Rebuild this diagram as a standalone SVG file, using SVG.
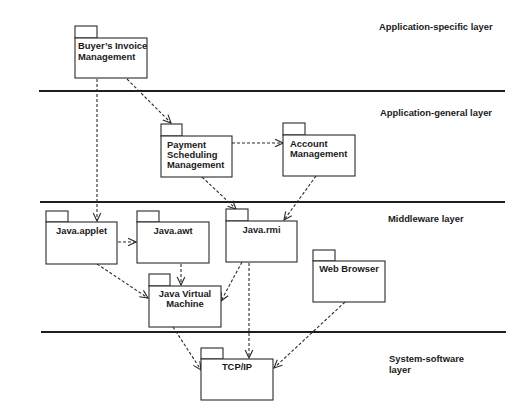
<svg xmlns="http://www.w3.org/2000/svg" width="527" height="414" viewBox="0 0 527 414">
<defs>
<style>
.pk{fill:#fff;stroke:#2a2a2a;stroke-width:1.1}
.t{font-family:"Liberation Sans",Arial,Helvetica,sans-serif;font-weight:bold;font-size:9.4px;fill:#1a1a1a}
.c{text-anchor:middle}
.lay{stroke:#1e1e1e;stroke-width:2.2}
.dep{fill:none;stroke:#2a2a2a;stroke-width:1.1;stroke-dasharray:3,2;marker-end:url(#arr)}
</style>
<marker id="arr" markerUnits="userSpaceOnUse" markerWidth="10" markerHeight="10" viewBox="0 0 10 10" refX="9" refY="5" orient="auto">
<path d="M1,1.2 L9,5 L1,8.8" fill="none" stroke="#2a2a2a" stroke-width="1.1"/>
</marker>
</defs>
<rect width="527" height="414" fill="#fff"/>

<g id="layers">
<line class="lay" x1="39" y1="91" x2="505" y2="91"/>
<line class="lay" x1="40" y1="202" x2="505" y2="202"/>
<line class="lay" x1="41" y1="332" x2="506" y2="332"/>
<text class="t" x="379" y="30">Application-specific layer</text>
<text class="t" x="380" y="116">Application-general layer</text>
<text class="t" x="388" y="222">Middleware layer</text>
<text class="t" x="389" y="362">System-software</text>
<text class="t" x="389" y="373">layer</text>
</g>

<g id="connectors">
<line class="dep" x1="127" y1="79" x2="171" y2="123"/>
<line class="dep" x1="97" y1="79" x2="97" y2="221"/>
<line class="dep" x1="232" y1="143" x2="283" y2="143"/>
<line class="dep" x1="202" y1="177" x2="236" y2="209"/>
<line class="dep" x1="316" y1="176" x2="284" y2="220"/>
<line class="dep" x1="118" y1="242" x2="136" y2="242"/>
<line class="dep" x1="97" y1="264" x2="148" y2="298"/>
<line class="dep" x1="181" y1="264" x2="181" y2="285"/>
<line class="dep" x1="242" y1="262" x2="221" y2="301"/>
<line class="dep" x1="249" y1="263" x2="249" y2="358"/>
<line class="dep" x1="173" y1="327" x2="201" y2="370"/>
<line class="dep" x1="345" y1="302" x2="274" y2="368"/>
</g>

<g id="buyers-invoice">
<rect class="pk" x="75" y="26" width="22" height="12"/>
<rect class="pk" x="75" y="38" width="72" height="40"/>
<text class="t" x="78" y="49">Buyer’s Invoice</text>
<text class="t" x="78" y="60">Management</text>
</g>

<g id="payment-scheduling">
<rect class="pk" x="161" y="124" width="21" height="12"/>
<rect class="pk" x="161" y="136" width="71" height="41"/>
<text class="t" x="167" y="148">Payment</text>
<text class="t" x="167" y="158">Scheduling</text>
<text class="t" x="167" y="168">Management</text>
</g>

<g id="account-management">
<rect class="pk" x="283" y="123" width="22" height="12"/>
<rect class="pk" x="283" y="135" width="72" height="41"/>
<text class="t" x="290" y="147">Account</text>
<text class="t" x="290" y="157">Management</text>
</g>

<g id="java-applet">
<rect class="pk" x="46" y="211" width="22" height="11"/>
<rect class="pk" x="46" y="222" width="71" height="42"/>
<text class="t c" x="81.5" y="234">Java.applet</text>
</g>

<g id="java-awt">
<rect class="pk" x="137" y="211" width="22" height="11"/>
<rect class="pk" x="137" y="222" width="72" height="41"/>
<text class="t c" x="173" y="234">Java.awt</text>
</g>

<g id="java-rmi">
<rect class="pk" x="226" y="209" width="22" height="12"/>
<rect class="pk" x="226" y="221" width="71" height="41"/>
<text class="t c" x="261.5" y="233">Java.rmi</text>
</g>

<g id="web-browser">
<rect class="pk" x="313" y="250" width="22" height="11"/>
<rect class="pk" x="313" y="261" width="72" height="41"/>
<text class="t c" x="349" y="272">Web Browser</text>
</g>

<g id="java-virtual-machine">
<rect class="pk" x="149" y="274" width="21" height="12"/>
<rect class="pk" x="149" y="286" width="72" height="41"/>
<text class="t c" x="185" y="297">Java Virtual</text>
<text class="t c" x="185" y="307">Machine</text>
</g>

<g id="tcp-ip">
<rect class="pk" x="201" y="348" width="22" height="11"/>
<rect class="pk" x="201" y="359" width="72" height="41"/>
<text class="t c" x="237" y="370">TCP/IP</text>
</g>
</svg>
